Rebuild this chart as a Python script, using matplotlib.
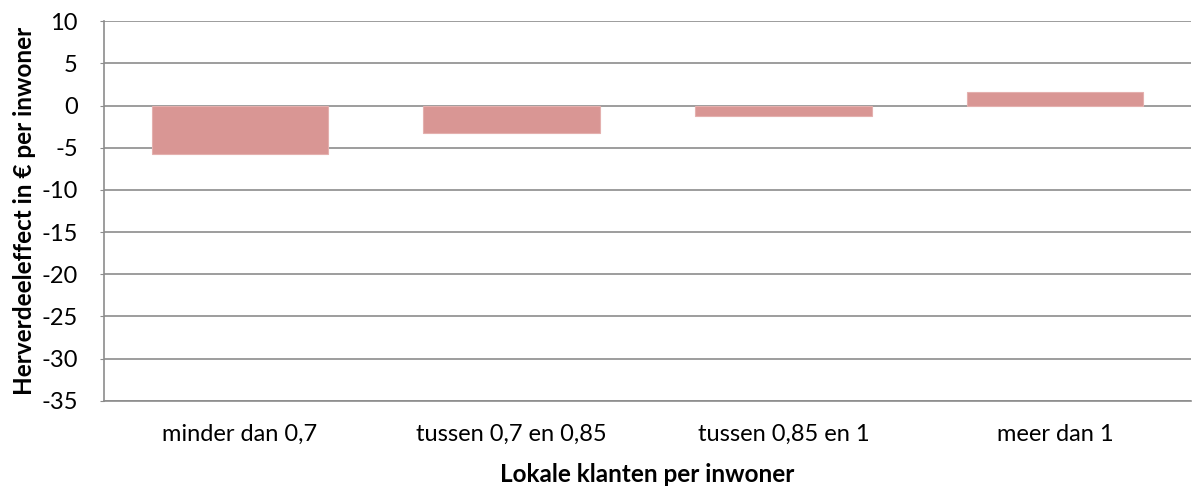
import matplotlib.pyplot as plt
import numpy as np

categories = ['minder dan 0,7', 'tussen 0,7 en 0,85', 'tussen 0,85 en 1', 'meer dan 1']
values = [-5.8, -3.25, -1.2, 1.65]
yticks = [10, 5, 0, -5, -10, -15, -20, -25, -30, -35]

plt.rcParams['font.family'] = ['Lato', 'DejaVu Sans']

fig = plt.figure(figsize=(11.93, 4.88), dpi=100)
ax = fig.add_axes([0.0872, 0.1789, 0.9111, 0.7775])

x = np.arange(len(categories))
ax.bar(x, values, width=0.65, color='#d99694', edgecolor='#e4b0ae', linewidth=0.8, zorder=3)

ax.set_xlim(-0.5, len(categories) - 0.5)
ax.set_ylim(-35, 10)
ax.set_yticks(yticks)
ax.set_yticklabels([str(v) for v in yticks])
ax.set_xticks(x)
ax.set_xticklabels(categories)

ax.grid(axis='y', color='#8c8c8c', linewidth=1.2, zorder=0)
for s in ['top', 'right']:
    ax.spines[s].set_visible(False)
for s in ['left', 'bottom']:
    ax.spines[s].set_color('#8c8c8c')
    ax.spines[s].set_linewidth(1.2)

ax.tick_params(axis='y', length=3, color='#8c8c8c', pad=16, labelsize=17)
ax.tick_params(axis='x', length=0, pad=17, labelsize=17)

ax.set_ylabel('Herverdeeleffect in € per inwoner', fontsize=17.5, fontweight='bold', labelpad=4)
ax.set_xlabel('Lokale klanten per inwoner', fontsize=17.5, fontweight='bold', labelpad=13)

fig.savefig('out.png', dpi=100)
